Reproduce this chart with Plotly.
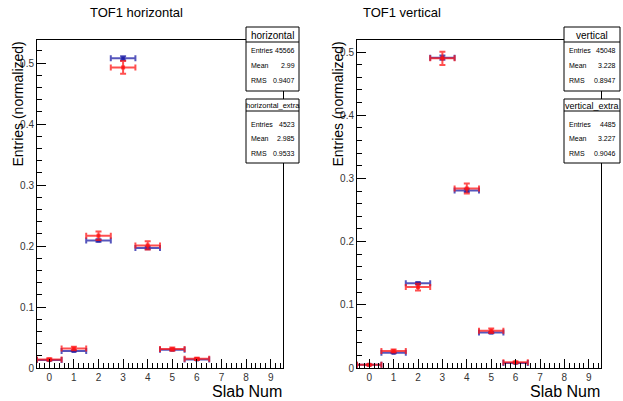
import plotly.graph_objects as go

W, H = 623, 401

slabs = [0, 1, 2, 3, 4, 5, 6]

h_main = [0.013, 0.028, 0.209, 0.508, 0.197, 0.030, 0.014]
h_main_err = [0.0005, 0.0008, 0.0021, 0.0033, 0.0021, 0.0008, 0.0005]
h_extra = [0.014, 0.032, 0.217, 0.493, 0.201, 0.031, 0.015]
h_extra_err = [0.0018, 0.0027, 0.0069, 0.0105, 0.0067, 0.0026, 0.0018]

v_main = [0.005, 0.024, 0.134, 0.491, 0.281, 0.056, 0.008]
v_main_err = [0.0003, 0.0007, 0.0017, 0.0033, 0.0025, 0.0011, 0.0004]
v_extra = [0.005, 0.027, 0.128, 0.490, 0.284, 0.059, 0.009]
v_extra_err = [0.0011, 0.0024, 0.0053, 0.0104, 0.0079, 0.0036, 0.0014]

x_ticks = [0, 1, 2, 3, 4, 5, 6, 7, 8, 9]
y_ticks = [0, 0.1, 0.2, 0.3, 0.4, 0.5]

stats = [
    ("horizontal", "45566", "2.99", "0.9407"),
    ("horizontal_extra", "4523", "2.985", "0.9533"),
    ("vertical", "45048", "3.228", "0.8947"),
    ("vertical_extra", "4485", "3.227", "0.9046"),
]

BLUE = "rgba(30,30,165,0.75)"
RED = "rgba(255,20,20,0.75)"
FONT = "Liberation Sans, Arial, sans-serif"
NARROW = "Liberation Sans Narrow, Liberation Sans, Arial, sans-serif"


def px(x):
    return x / W


def py(y):
    return 1 - y / H


fig = go.Figure()


def add_series(x, y, err, color, xa, ya):
    fig.add_trace(go.Scatter(
        x=x, y=y, mode="markers", xaxis=xa, yaxis=ya,
        marker=dict(symbol="square", size=4, color=color),
        error_x=dict(type="constant", value=0.5, color=color, thickness=2, width=3),
        error_y=dict(type="data", array=err, color=color, thickness=2, width=3),
        showlegend=False, hoverinfo="x+y",
    ))


add_series(slabs, h_main, h_main_err, BLUE, "x", "y")
add_series(slabs, h_extra, h_extra_err, RED, "x", "y")
add_series(slabs, v_main, v_main_err, BLUE, "x2", "y2")
add_series(slabs, v_extra, v_extra_err, RED, "x2", "y2")

axis_common = dict(
    showline=True, linecolor="black", linewidth=1, mirror=True,
    showgrid=False, zeroline=False, ticks="inside", ticklen=9,
    tickcolor="black", tickwidth=1, automargin=False,
    tickfont=dict(family=FONT, size=10, color="#333333"),
)

ydom = [py(368), py(40)]
fig.update_layout(
    width=W, height=H, margin=dict(l=0, r=0, t=0, b=0),
    paper_bgcolor="white", plot_bgcolor="white",
    xaxis=dict(domain=[px(37), px(283)], range=[-0.5, 9.5], tickvals=x_ticks,
               minor=dict(dtick=0.2, tick0=0, ticklen=5, ticks="inside", tickcolor="black"),
               anchor="y", **axis_common),
    yaxis=dict(domain=ydom, range=[0, 0.538], tickvals=y_ticks,
               minor=dict(dtick=0.02, tick0=0, ticklen=5, ticks="inside", tickcolor="black"),
               anchor="x", **axis_common),
    xaxis2=dict(domain=[px(357), px(601)], range=[-0.5, 9.5], tickvals=x_ticks,
                minor=dict(dtick=0.2, tick0=0, ticklen=5, ticks="inside", tickcolor="black"),
                anchor="y2", **axis_common),
    yaxis2=dict(domain=ydom, range=[0, 0.519], tickvals=y_ticks,
                minor=dict(dtick=0.02, tick0=0, ticklen=5, ticks="inside", tickcolor="black"),
                anchor="x2", **axis_common),
)

ann = []
shapes = []


def text(x, y, s, size, xanchor="center", yanchor="middle", angle=0, color="black", family=FONT):
    ann.append(dict(x=px(x), y=py(y), xref="paper", yref="paper", text=s,
                    showarrow=False, xanchor=xanchor, yanchor=yanchor, textangle=angle,
                    font=dict(family=family, size=size, color=color)))


# titles
text(136, 13, "TOF1 horizontal", 13, family=NARROW)
text(402, 13, "TOF1 vertical", 13, family=NARROW)
# axis titles
text(284, 391, "Slab Num", 16, xanchor="right")
text(602, 391, "Slab Num", 16, xanchor="right")
text(17, 40, "Entries (normalized)", 14, yanchor="top", angle=-90)
text(337, 40, "Entries (normalized)", 14, yanchor="top", angle=-90)


def stat_box(x0, x1, y0, sep, y1, rows_y, name, n, mean, rms):
    shapes.append(dict(type="rect", xref="paper", yref="paper",
                       x0=px(x0), x1=px(x1), y0=py(y0), y1=py(y1),
                       fillcolor="white", line=dict(color="black", width=1), layer="above"))
    shapes.append(dict(type="line", xref="paper", yref="paper",
                       x0=px(x0), x1=px(x1), y0=py(sep), y1=py(sep),
                       line=dict(color="black", width=1), layer="above"))
    if name.startswith("horizontal_"):
        tsize = 7.5
    elif name.startswith("vertical_"):
        tsize = 9
    else:
        tsize = 10
    text((x0 + x1) / 2, (y0 + sep) / 2 + 0.5, name, tsize, family=NARROW)
    for lab, val, yy in zip(["Entries", "Mean", "RMS"], [n, mean, rms], rows_y):
        text(x0 + 3, yy, lab, 7, xanchor="left")
        text(x1 - 2, yy, val, 7, xanchor="right")


stat_box(246, 299, 27, 42, 91, [50, 66, 81], *stats[0])
stat_box(246, 299, 99, 111, 163, [124, 138, 153], *stats[1])
stat_box(564, 620, 27, 42, 91, [50, 66, 81], *stats[2])
stat_box(564, 620, 99, 111, 163, [124, 138, 153], *stats[3])

fig.update_layout(annotations=ann, shapes=shapes)
fig.write_html("out.html", config={"displayModeBar": False},
               post_script="document.body.style.margin='0';document.body.style.padding='0';")
